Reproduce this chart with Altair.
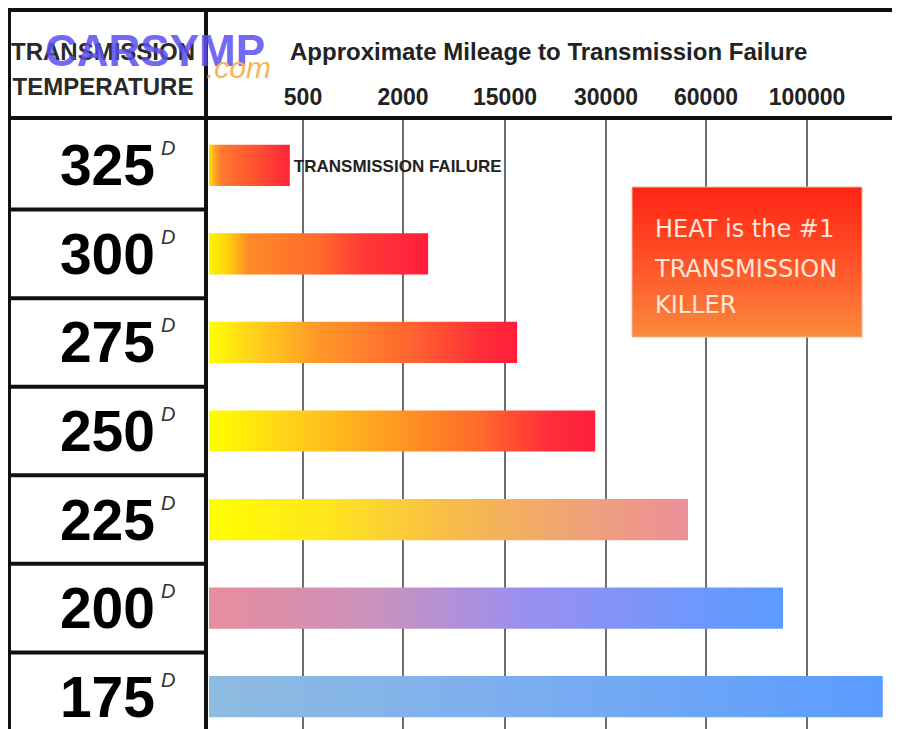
import altair as alt
import pandas as pd

# ---- data ----
temps = ["325", "300", "275", "250", "225", "200", "175"]
miles = [430, 5200, 16800, 28400, 54600, 90500, 130000]
tick_values = [500, 2000, 15000, 30000, 60000, 100000]
tick_labels = ["500", "2000", "15000", "30000", "60000", "100000"]
row_bounds = [1, 2, 3, 4, 5, 6]

# ---- styles ----
FONT = "Liberation Sans"
W, H = 884, 721
scale_domain = [0, 500, 2000, 15000, 30000, 60000, 100000, 140000]
scale_range = [201, 295, 395, 497, 598, 698, 799, 900]
ROW_RANGE = [113, 733]
PAD_IN = 0.535

gradients = {
    "325": [(0, "#ffe600"), (0.06, "#ffb020"), (0.15, "#ff7a2e"), (0.55, "#ff5530"), (1, "#ff2438")],
    "300": [(0, "#fff200"), (0.08, "#ffd60a"), (0.18, "#ff8a26"), (0.5, "#ff6a2c"), (0.7, "#ff3a36"), (1, "#ff1e3c")],
    "275": [(0, "#ffff00"), (0.12, "#ffd81a"), (0.35, "#ff9a28"), (0.65, "#ff6530"), (0.88, "#ff3038"), (1, "#ff1e3c")],
    "250": [(0, "#ffff00"), (0.2, "#ffd418"), (0.45, "#ffa020"), (0.7, "#ff6a2c"), (0.88, "#ff2e3a"), (1, "#ff1e3c")],
    "225": [(0, "#ffff00"), (0.25, "#ffe51e"), (0.5, "#f8bc48"), (0.75, "#f0a474"), (1, "#ec8f9a")],
    "200": [(0, "#e88d9e"), (0.3, "#c992be"), (0.55, "#9a8ff0"), (0.8, "#7496fb"), (1, "#5c9cff")],
    "175": [(0, "#8ebbe0"), (0.4, "#7fb0ee"), (0.75, "#6aa4f8"), (1, "#5a9cff")],
}

df = pd.DataFrame({"temp": temps, "miles": miles, "start": [0] * len(temps)})
ticks_df = pd.DataFrame({"tick": tick_values, "label": tick_labels})
rows_df = pd.DataFrame({"b": row_bounds})
one = pd.DataFrame({"k": [0]})

xs = alt.Scale(domain=scale_domain, range=scale_range, nice=False, zero=False)


def ybase():
    return alt.Y(
        "temp:N",
        scale=alt.Scale(type="band", domain=temps, range=ROW_RANGE,
                        paddingInner=PAD_IN, paddingOuter=PAD_IN / 2),
        axis=None,
    )


def lg(stops, vertical=False):
    return alt.LinearGradient(
        gradient="linear",
        stops=[alt.GradientStop(color=c, offset=o) for o, c in stops],
        x1=0, x2=0 if vertical else 1, y1=0, y2=1 if vertical else 0,
    )


layers = []

# vertical gridlines
layers.append(
    alt.Chart(ticks_df).mark_rule(color="#6e6e6e", strokeWidth=2).encode(
        x=alt.X("tick:Q", scale=xs, axis=None),
        y=alt.value(110), y2=alt.value(H),
    )
)

# gradient bars
for t in temps:
    layers.append(
        alt.Chart(df).transform_filter(alt.datum.temp == t)
        .mark_bar(fill=lg(gradients[t]), strokeWidth=0)
        .encode(x=alt.X("start:Q", scale=xs, axis=None), x2="miles:Q", y=ybase())
    )

# table frame
def hline(y, x0, x1):
    return alt.Chart(one).mark_rule(color="#111111", strokeWidth=4).encode(
        x=alt.value(x0), x2=alt.value(x1), y=alt.value(y))


def vline(x, y0, y1):
    return alt.Chart(one).mark_rule(color="#111111", strokeWidth=4).encode(
        x=alt.value(x), y=alt.value(y0), y2=alt.value(y1))


layers += [hline(2, 0, W), hline(110, 0, W), vline(1, 2, H), vline(198, 2, H)]
layers.append(
    alt.Chart(rows_df).mark_rule(color="#111111", strokeWidth=4).encode(
        y=alt.Y("b:Q", scale=alt.Scale(domain=[0, 7], range=ROW_RANGE, nice=False, zero=False), axis=None),
        x=alt.value(0), x2=alt.value(198),
    )
)

# header texts
def label(text, x, y, size, weight="bold", color="#222222", align="left", style="normal",
          font=FONT, opacity=1.0):
    return alt.Chart(pd.DataFrame({"t": [text]})).mark_text(
        font=font, fontSize=size, fontWeight=weight, color=color, align=align,
        baseline="alphabetic", fontStyle=style, opacity=opacity,
    ).encode(text="t:N", x=alt.value(x), y=alt.value(y))


layers += [
    label("TRANSMISSION", 95, 52, 24, align="center", color="#2a2a2a"),
    label("TEMPERATURE", 95, 87, 24, align="center", color="#2a2a2a"),
    label("CARSYMP", 147, 58, 44, color="#5b4ff0", align="center", opacity=0.85),
    label(".com", 198, 70, 30, weight="normal", color="#f7b456", style="italic"),
    label("Approximate Mileage to Transmission Failure", 282, 52, 24),
]

# tick labels
layers.append(
    alt.Chart(ticks_df).mark_text(font=FONT, fontSize=23, fontWeight="bold", color="#222222",
                                  align="center", baseline="alphabetic").encode(
        x=alt.X("tick:Q", scale=xs, axis=None), y=alt.value(97), text="label:N")
)

# temperature labels
layers.append(
    alt.Chart(df).mark_text(font=FONT, fontSize=57, fontWeight="bold", color="#000000",
                            align="right", baseline="alphabetic", dy=20).encode(
        x=alt.value(147), y=ybase(), text="temp:N")
)
layers.append(
    alt.Chart(df).mark_text(font=FONT, fontSize=20, fontWeight="normal", fontStyle="italic",
                            color="#333333", align="left", baseline="alphabetic", dy=-10).encode(
        x=alt.value(153), y=ybase(), text=alt.value("D"))
)

# failure note next to the shortest bar
layers.append(
    alt.Chart(df).transform_filter(alt.datum.temp == "325").mark_text(
        font=FONT, fontSize=17, fontWeight="bold", color="#222222", align="left",
        baseline="alphabetic", dx=4, dy=7).encode(
        x=alt.X("miles:Q", scale=xs, axis=None), y=ybase(), text=alt.value("TRANSMISSION FAILURE"))
)

# callout box
layers.append(
    alt.Chart(one).mark_rect(fill=lg([(0, "#ff2414"), (0.5, "#ff5228"), (1, "#f98a3c")], vertical=True),
                             stroke="#f3b89a", strokeWidth=1).encode(
        x=alt.value(624), x2=alt.value(854), y=alt.value(179), y2=alt.value(329))
)
for txt, yy in [("HEAT is the #1", 229), ("TRANSMISSION", 269), ("KILLER", 305)]:
    layers.append(label(txt, 647, yy, 24, weight="normal", color="#fde6da", font="DejaVu Sans"))

chart = alt.layer(*layers).resolve_scale(y="independent").properties(
    width=W, height=H, padding=0, autosize=alt.AutoSizeParams(type="none"),
    background="white",
).configure_view(stroke=None)

chart.save("out.html", embed_options={"renderer": "svg", "actions": False})
